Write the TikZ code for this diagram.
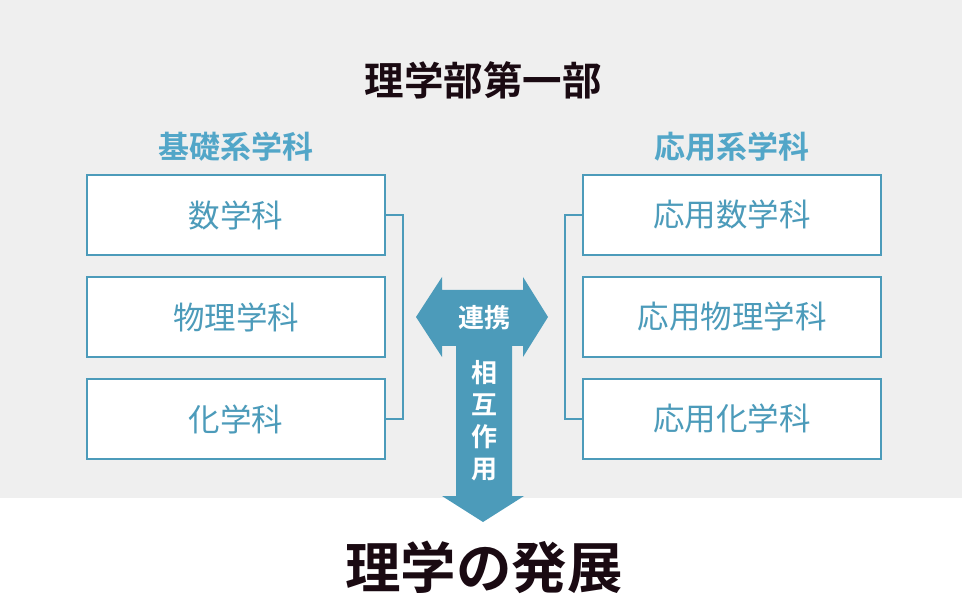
\documentclass[tikz,border=0pt]{standalone}
\usepackage{fontspec}
\setmainfont{Noto Sans CJK JP}[BoldFont={Noto Sans CJK JP Bold}]
\usepackage{xcolor}
\usepackage{tikz}
\usetikzlibrary{positioning, calc}
\definecolor{rblue}{HTML}{4C9BBA}
\definecolor{rhead}{HTML}{52A6C8}
\definecolor{rdark}{HTML}{1A0A12}
\definecolor{rgray}{HTML}{EFEFEF}
\tikzset{
    % Node styles
    dept/.style={rectangle, draw=rblue, line width=2pt, fill=white,
                 minimum width=298pt, minimum height=80pt,
                 text=rblue, font=\fontsize{31.5}{34}\selectfont},
    group title/.style={text=rhead, font=\fontsize{31}{34}\selectfont\bfseries},
    % Line styles
    bracket/.style={draw=rblue, line width=2pt},
    flow/.style={fill=rblue},
}

\begin{document}
\begin{tikzpicture}[x=1pt, y=-1pt,
    inner/.style={text=white, font=\fontsize{26}{32}\selectfont\bfseries, align=center},
]
    % Background
    \fill[white] (0,0) rectangle (962,604);
    \fill[rgray] (0,0) rectangle (962,498);
    \useasboundingbox (0,0) rectangle (962,604);

    % Title
    \node[text=rdark, font=\fontsize{39.5}{42}\selectfont\bfseries] (top) at (483,80) {理学部第一部};

    % Basic departments
    \node[group title] (basic) at (236,147) {基礎系学科};
    \node[dept] (b1) at (236,215) {数学科};
    \node[dept] (b2) at (236,317) {物理学科};
    \node[dept] (b3) at (236,419) {化学科};

    % Applied departments
    \node[group title] (applied) at (732,147) {応用系学科};
    \node[dept] (a1) at (732,215) {応用数学科};
    \node[dept] (a2) at (732,317) {応用物理学科};
    \node[dept] (a3) at (732,419) {応用化学科};

    % Brackets
    \draw[bracket] (b1.east) -- ++(17,0) |- (b3.east);
    \draw[bracket] (a1.west) -- ++(-17,0) |- (a3.west);

    % Cooperation / interaction arrow
    \fill[flow] (416,317) -- (442,277) -- (442,290) -- (523,290) -- (523,277)
        -- (548,317) -- (523,357) -- (523,346) -- (512,346) -- (512,496)
        -- (524,496) -- (483,522) -- (442,496) -- (456,496) -- (456,346)
        -- (442,346) -- (442,357) -- cycle;
    \node[inner] (coop) at (484,318) {連携};
    \node[inner] (inter) at (484,421) {相\\互\\作\\用};

    % Result
    \node[text=rdark, font=\fontsize{55.5}{58}\selectfont\bfseries] (result) at (484,567) {理学の発展};
\end{tikzpicture}
\end{document}
